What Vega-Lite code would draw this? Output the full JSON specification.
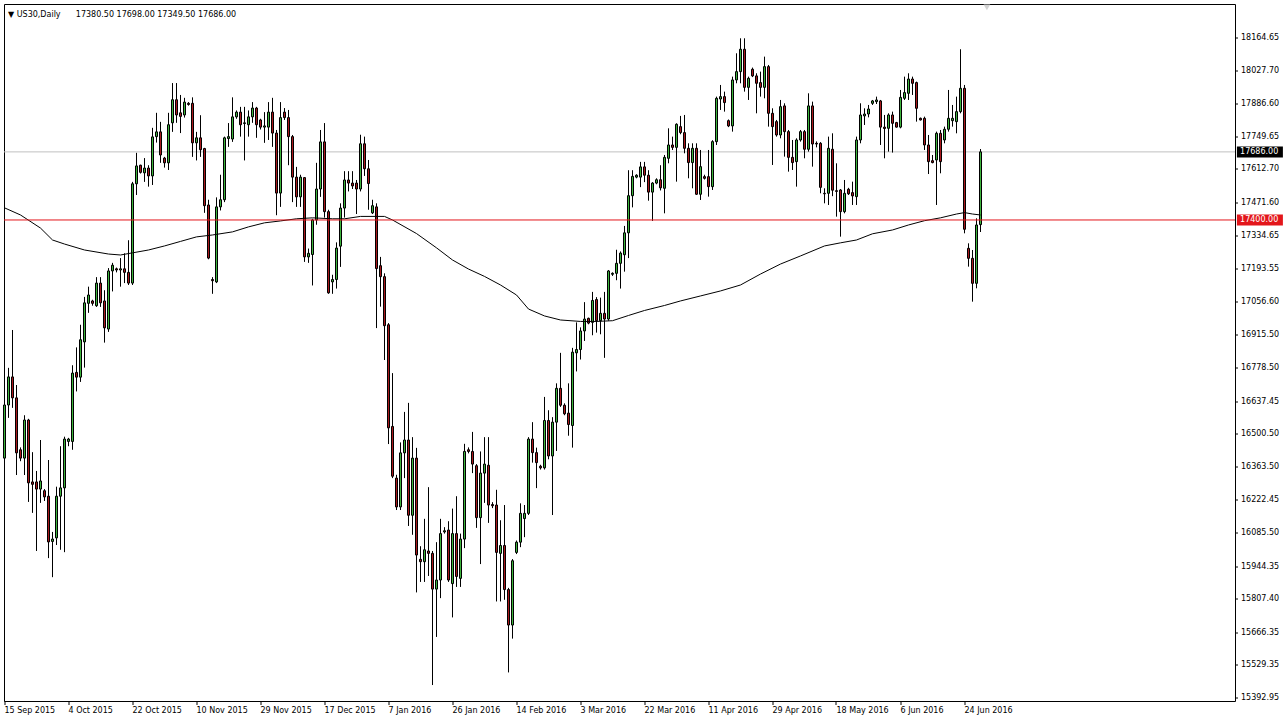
{
"$schema":"https://vega.github.io/schema/vega-lite/v6.json",
"width":1231,"height":697,
"autosize":{"type":"none"},
"padding":{"left":4,"top":4,"right":50,"bottom":23},
"background":"#ffffff",
"title":{"text":"▼ US30,Daily\u00a0\u00a0\u00a0\u00a0\u00a0\u00a017380.50 17698.00 17349.50 17686.00","anchor":"start","frame":"group","orient":"top","offset":-12,"dy":9,"baseline":"alphabetic","dx":4,"font":"DejaVu Sans","fontSize":8,"fontWeight":"normal","color":"#000000"},
"config":{
"view":{"stroke":"#000000","strokeWidth":1},
"axis":{"labelFont":"DejaVu Sans","labelFontSize":8,"labelColor":"#000000","tickColor":"#000000","tickWidth":1,"grid":false,"domain":false,"titleOpacity":0,"translate":0},
"axisX":{"labelAlign":"left","labelBaseline":"top","tickSize":4,"labelPadding":2,"labelOverlap":false,"labelFlush":false,"labelBound":false},
"axisY":{"tickSize":3,"labelPadding":3,"labelBaseline":"middle","labelOverlap":false,"labelBound":false,"labelFlush":false}
},
"datasets":{
"bars":[
{"i":0,"d":"2015-09-15","o":16400,"h":16644,"l":16308,"c":16623},
{"i":1,"d":"2015-09-16","o":16623,"h":16779,"l":16569,"c":16741},
{"i":2,"d":"2015-09-17","o":16741,"h":16938,"l":16611,"c":16653},
{"i":3,"d":"2015-09-18","o":16653,"h":16707,"l":16329,"c":16422},
{"i":4,"d":"2015-09-20","o":16435,"h":16445,"l":16387,"c":16400},
{"i":5,"d":"2015-09-21","o":16400,"h":16580,"l":16329,"c":16560},
{"i":6,"d":"2015-09-22","o":16560,"h":16565,"l":16216,"c":16296},
{"i":7,"d":"2015-09-23","o":16300,"h":16425,"l":16170,"c":16290},
{"i":8,"d":"2015-09-24","o":16300,"h":16346,"l":16010,"c":16270},
{"i":9,"d":"2015-09-25","o":16270,"h":16476,"l":16212,"c":16304},
{"i":10,"d":"2015-09-27","o":16263,"h":16270,"l":16220,"c":16237},
{"i":11,"d":"2015-09-28","o":16240,"h":16392,"l":15980,"c":16048},
{"i":12,"d":"2015-09-29","o":16050,"h":16090,"l":15900,"c":16060},
{"i":13,"d":"2015-09-30","o":16065,"h":16280,"l":16035,"c":16240},
{"i":14,"d":"2015-10-01","o":16240,"h":16450,"l":16015,"c":16275},
{"i":15,"d":"2015-10-02","o":16275,"h":16490,"l":16005,"c":16480},
{"i":16,"d":"2015-10-04","o":16470,"h":16485,"l":16450,"c":16480},
{"i":17,"d":"2015-10-05","o":16470,"h":16790,"l":16435,"c":16757},
{"i":18,"d":"2015-10-06","o":16760,"h":16865,"l":16680,"c":16740},
{"i":19,"d":"2015-10-07","o":16740,"h":16960,"l":16720,"c":16897},
{"i":20,"d":"2015-10-08","o":16888,"h":17077,"l":16780,"c":17052},
{"i":21,"d":"2015-10-09","o":17050,"h":17120,"l":17010,"c":17085},
{"i":22,"d":"2015-10-11","o":17060,"h":17065,"l":17040,"c":17050},
{"i":23,"d":"2015-10-12","o":17040,"h":17160,"l":17035,"c":17135},
{"i":24,"d":"2015-10-13","o":17135,"h":17160,"l":17035,"c":17052},
{"i":25,"d":"2015-10-14","o":17060,"h":17105,"l":16885,"c":16947},
{"i":26,"d":"2015-10-15","o":16942,"h":17198,"l":16930,"c":17186},
{"i":27,"d":"2015-10-16","o":17186,"h":17220,"l":17100,"c":17210},
{"i":28,"d":"2015-10-18","o":17195,"h":17200,"l":17180,"c":17190},
{"i":29,"d":"2015-10-19","o":17190,"h":17240,"l":17120,"c":17195},
{"i":30,"d":"2015-10-20","o":17195,"h":17260,"l":17135,"c":17180},
{"i":31,"d":"2015-10-21","o":17180,"h":17315,"l":17127,"c":17135},
{"i":32,"d":"2015-10-22","o":17135,"h":17560,"l":17127,"c":17552},
{"i":33,"d":"2015-10-23","o":17552,"h":17682,"l":17505,"c":17627},
{"i":34,"d":"2015-10-25","o":17630,"h":17632,"l":17595,"c":17600},
{"i":35,"d":"2015-10-26","o":17598,"h":17660,"l":17560,"c":17618},
{"i":36,"d":"2015-10-27","o":17618,"h":17630,"l":17540,"c":17585},
{"i":37,"d":"2015-10-28","o":17585,"h":17787,"l":17547,"c":17749},
{"i":38,"d":"2015-10-29","o":17750,"h":17850,"l":17725,"c":17770},
{"i":39,"d":"2015-10-30","o":17770,"h":17812,"l":17640,"c":17673},
{"i":40,"d":"2015-11-01","o":17660,"h":17665,"l":17620,"c":17640},
{"i":41,"d":"2015-11-02","o":17640,"h":17850,"l":17610,"c":17800},
{"i":42,"d":"2015-11-03","o":17808,"h":17975,"l":17770,"c":17905},
{"i":43,"d":"2015-11-04","o":17905,"h":17975,"l":17808,"c":17841},
{"i":44,"d":"2015-11-05","o":17850,"h":17925,"l":17765,"c":17835},
{"i":45,"d":"2015-11-06","o":17841,"h":17913,"l":17830,"c":17895},
{"i":46,"d":"2015-11-08","o":17890,"h":17895,"l":17880,"c":17885},
{"i":47,"d":"2015-11-09","o":17890,"h":17915,"l":17665,"c":17724},
{"i":48,"d":"2015-11-10","o":17724,"h":17770,"l":17650,"c":17745},
{"i":49,"d":"2015-11-11","o":17745,"h":17840,"l":17665,"c":17695},
{"i":50,"d":"2015-11-12","o":17700,"h":17703,"l":17430,"c":17460},
{"i":51,"d":"2015-11-13","o":17463,"h":17485,"l":17235,"c":17240},
{"i":52,"d":"2015-11-15","o":17150,"h":17160,"l":17090,"c":17145},
{"i":53,"d":"2015-11-16","o":17140,"h":17495,"l":17135,"c":17455},
{"i":54,"d":"2015-11-17","o":17455,"h":17590,"l":17440,"c":17485},
{"i":55,"d":"2015-11-18","o":17485,"h":17750,"l":17475,"c":17745},
{"i":56,"d":"2015-11-19","o":17742,"h":17807,"l":17707,"c":17750},
{"i":57,"d":"2015-11-20","o":17740,"h":17915,"l":17728,"c":17833},
{"i":58,"d":"2015-11-22","o":17833,"h":17860,"l":17825,"c":17853},
{"i":59,"d":"2015-11-23","o":17853,"h":17875,"l":17750,"c":17800},
{"i":60,"d":"2015-11-24","o":17805,"h":17875,"l":17650,"c":17808},
{"i":61,"d":"2015-11-25","o":17800,"h":17860,"l":17750,"c":17833},
{"i":62,"d":"2015-11-26","o":17833,"h":17895,"l":17808,"c":17870},
{"i":63,"d":"2015-11-27","o":17870,"h":17875,"l":17745,"c":17800},
{"i":64,"d":"2015-11-29","o":17820,"h":17825,"l":17780,"c":17790},
{"i":65,"d":"2015-11-30","o":17790,"h":17853,"l":17724,"c":17795},
{"i":66,"d":"2015-12-01","o":17790,"h":17895,"l":17736,"c":17853},
{"i":67,"d":"2015-12-02","o":17853,"h":17913,"l":17707,"c":17765},
{"i":68,"d":"2015-12-03","o":17765,"h":17778,"l":17420,"c":17513},
{"i":69,"d":"2015-12-04","o":17513,"h":17895,"l":17455,"c":17830},
{"i":70,"d":"2015-12-06","o":17853,"h":17870,"l":17820,"c":17830},
{"i":71,"d":"2015-12-07","o":17830,"h":17862,"l":17630,"c":17750},
{"i":72,"d":"2015-12-08","o":17750,"h":17757,"l":17475,"c":17580},
{"i":73,"d":"2015-12-09","o":17580,"h":17623,"l":17455,"c":17497},
{"i":74,"d":"2015-12-10","o":17497,"h":17590,"l":17455,"c":17580},
{"i":75,"d":"2015-12-11","o":17578,"h":17580,"l":17224,"c":17245},
{"i":76,"d":"2015-12-13","o":17245,"h":17280,"l":17220,"c":17260},
{"i":77,"d":"2015-12-14","o":17255,"h":17405,"l":17125,"c":17400},
{"i":78,"d":"2015-12-15","o":17400,"h":17640,"l":17380,"c":17530},
{"i":79,"d":"2015-12-16","o":17530,"h":17778,"l":17497,"c":17728},
{"i":80,"d":"2015-12-17","o":17728,"h":17807,"l":17410,"c":17435},
{"i":81,"d":"2015-12-18","o":17435,"h":17443,"l":17090,"c":17094},
{"i":82,"d":"2015-12-20","o":17140,"h":17170,"l":17090,"c":17150},
{"i":83,"d":"2015-12-21","o":17150,"h":17306,"l":17112,"c":17282},
{"i":84,"d":"2015-12-22","o":17290,"h":17470,"l":17203,"c":17450},
{"i":85,"d":"2015-12-23","o":17450,"h":17605,"l":17410,"c":17568},
{"i":86,"d":"2015-12-24","o":17568,"h":17605,"l":17520,"c":17555},
{"i":87,"d":"2015-12-27","o":17555,"h":17605,"l":17530,"c":17543},
{"i":88,"d":"2015-12-28","o":17555,"h":17568,"l":17425,"c":17530},
{"i":89,"d":"2015-12-29","o":17530,"h":17758,"l":17520,"c":17720},
{"i":90,"d":"2015-12-30","o":17720,"h":17750,"l":17585,"c":17615},
{"i":91,"d":"2015-12-31","o":17615,"h":17652,"l":17443,"c":17553},
{"i":92,"d":"2016-01-03","o":17430,"h":17485,"l":17425,"c":17460},
{"i":93,"d":"2016-01-04","o":17455,"h":17470,"l":16946,"c":17196},
{"i":94,"d":"2016-01-05","o":17208,"h":17245,"l":17036,"c":17162},
{"i":95,"d":"2016-01-06","o":17162,"h":17176,"l":16812,"c":16956},
{"i":96,"d":"2016-01-07","o":16960,"h":16967,"l":16459,"c":16527},
{"i":97,"d":"2016-01-08","o":16533,"h":16757,"l":16316,"c":16324},
{"i":98,"d":"2016-01-10","o":16316,"h":16330,"l":16182,"c":16195},
{"i":99,"d":"2016-01-11","o":16195,"h":16466,"l":16182,"c":16422},
{"i":100,"d":"2016-01-12","o":16422,"h":16594,"l":16316,"c":16476},
{"i":101,"d":"2016-01-13","o":16476,"h":16632,"l":16115,"c":16160},
{"i":102,"d":"2016-01-14","o":16160,"h":16488,"l":16078,"c":16400},
{"i":103,"d":"2016-01-15","o":16400,"h":16443,"l":15836,"c":15993},
{"i":104,"d":"2016-01-17","o":15975,"h":16030,"l":15880,"c":15965},
{"i":105,"d":"2016-01-18","o":15965,"h":16145,"l":15880,"c":16015},
{"i":106,"d":"2016-01-19","o":16010,"h":16278,"l":15905,"c":16000},
{"i":107,"d":"2016-01-20","o":16000,"h":16010,"l":15447,"c":15850},
{"i":108,"d":"2016-01-21","o":15850,"h":16047,"l":15649,"c":15888},
{"i":109,"d":"2016-01-22","o":15888,"h":16145,"l":15812,"c":16083},
{"i":110,"d":"2016-01-24","o":16090,"h":16110,"l":16083,"c":16095},
{"i":111,"d":"2016-01-25","o":16098,"h":16135,"l":15880,"c":15888},
{"i":112,"d":"2016-01-26","o":15873,"h":16188,"l":15731,"c":16083},
{"i":113,"d":"2016-01-27","o":16083,"h":16240,"l":15859,"c":15903},
{"i":114,"d":"2016-01-28","o":15895,"h":16083,"l":15859,"c":16060},
{"i":115,"d":"2016-01-29","o":16060,"h":16460,"l":16022,"c":16428},
{"i":116,"d":"2016-01-31","o":16435,"h":16445,"l":16420,"c":16428},
{"i":117,"d":"2016-02-01","o":16428,"h":16510,"l":16337,"c":16375},
{"i":118,"d":"2016-02-02","o":16368,"h":16375,"l":16107,"c":16150},
{"i":119,"d":"2016-02-03","o":16150,"h":16428,"l":15955,"c":16337},
{"i":120,"d":"2016-02-04","o":16337,"h":16488,"l":16212,"c":16375},
{"i":121,"d":"2016-02-05","o":16370,"h":16488,"l":16128,"c":16203},
{"i":122,"d":"2016-02-07","o":16205,"h":16215,"l":16190,"c":16200},
{"i":123,"d":"2016-02-08","o":16203,"h":16267,"l":15798,"c":16004},
{"i":124,"d":"2016-02-09","o":16000,"h":16139,"l":15798,"c":16033},
{"i":125,"d":"2016-02-10","o":16033,"h":16203,"l":15805,"c":15848},
{"i":126,"d":"2016-02-11","o":15848,"h":15855,"l":15500,"c":15699},
{"i":127,"d":"2016-02-12","o":15699,"h":15976,"l":15642,"c":15969},
{"i":128,"d":"2016-02-14","o":16004,"h":16054,"l":15997,"c":16047},
{"i":129,"d":"2016-02-15","o":16047,"h":16210,"l":16026,"c":16168},
{"i":130,"d":"2016-02-16","o":16146,"h":16203,"l":16068,"c":16168},
{"i":131,"d":"2016-02-17","o":16168,"h":16488,"l":16161,"c":16480},
{"i":132,"d":"2016-02-18","o":16480,"h":16551,"l":16381,"c":16423},
{"i":133,"d":"2016-02-19","o":16423,"h":16444,"l":16274,"c":16381},
{"i":134,"d":"2016-02-21","o":16366,"h":16372,"l":16352,"c":16359},
{"i":135,"d":"2016-02-22","o":16359,"h":16657,"l":16352,"c":16558},
{"i":136,"d":"2016-02-23","o":16558,"h":16601,"l":16395,"c":16409},
{"i":137,"d":"2016-02-24","o":16409,"h":16572,"l":16161,"c":16551},
{"i":138,"d":"2016-02-25","o":16551,"h":16714,"l":16430,"c":16693},
{"i":139,"d":"2016-02-26","o":16693,"h":16842,"l":16615,"c":16622},
{"i":140,"d":"2016-02-28","o":16622,"h":16630,"l":16580,"c":16586},
{"i":141,"d":"2016-02-29","o":16589,"h":16714,"l":16494,"c":16541},
{"i":142,"d":"2016-03-01","o":16537,"h":16863,"l":16444,"c":16845},
{"i":143,"d":"2016-03-02","o":16842,"h":16970,"l":16764,"c":16856},
{"i":144,"d":"2016-03-03","o":16856,"h":16949,"l":16814,"c":16934},
{"i":145,"d":"2016-03-04","o":16934,"h":17055,"l":16892,"c":16984},
{"i":146,"d":"2016-03-06","o":16987,"h":16990,"l":16962,"c":16967},
{"i":147,"d":"2016-03-07","o":16970,"h":17098,"l":16916,"c":17062},
{"i":148,"d":"2016-03-08","o":17066,"h":17076,"l":16927,"c":16977},
{"i":149,"d":"2016-03-09","o":16977,"h":17074,"l":16920,"c":17008},
{"i":150,"d":"2016-03-10","o":17008,"h":17098,"l":16821,"c":16984},
{"i":151,"d":"2016-03-11","o":16984,"h":17190,"l":16977,"c":17186},
{"i":152,"d":"2016-03-13","o":17172,"h":17180,"l":17165,"c":17176},
{"i":153,"d":"2016-03-14","o":17176,"h":17275,"l":17147,"c":17218},
{"i":154,"d":"2016-03-15","o":17218,"h":17268,"l":17112,"c":17261},
{"i":155,"d":"2016-03-16","o":17254,"h":17375,"l":17183,"c":17346},
{"i":156,"d":"2016-03-17","o":17346,"h":17609,"l":17240,"c":17502},
{"i":157,"d":"2016-03-18","o":17502,"h":17609,"l":17453,"c":17583},
{"i":158,"d":"2016-03-20","o":17580,"h":17592,"l":17575,"c":17588},
{"i":159,"d":"2016-03-21","o":17580,"h":17644,"l":17538,"c":17623},
{"i":160,"d":"2016-03-22","o":17623,"h":17644,"l":17559,"c":17588},
{"i":161,"d":"2016-03-23","o":17588,"h":17609,"l":17481,"c":17517},
{"i":162,"d":"2016-03-24","o":17517,"h":17559,"l":17396,"c":17555},
{"i":163,"d":"2016-03-27","o":17555,"h":17575,"l":17550,"c":17569},
{"i":164,"d":"2016-03-28","o":17569,"h":17630,"l":17524,"c":17535},
{"i":165,"d":"2016-03-29","o":17533,"h":17673,"l":17428,"c":17663},
{"i":166,"d":"2016-03-30","o":17659,"h":17785,"l":17638,"c":17715},
{"i":167,"d":"2016-03-31","o":17715,"h":17750,"l":17694,"c":17705},
{"i":168,"d":"2016-04-01","o":17705,"h":17806,"l":17561,"c":17802},
{"i":169,"d":"2016-04-03","o":17792,"h":17837,"l":17760,"c":17767},
{"i":170,"d":"2016-04-04","o":17767,"h":17841,"l":17680,"c":17701},
{"i":171,"d":"2016-04-05","o":17701,"h":17722,"l":17575,"c":17641},
{"i":172,"d":"2016-04-06","o":17641,"h":17722,"l":17533,"c":17701},
{"i":173,"d":"2016-04-07","o":17701,"h":17722,"l":17505,"c":17508},
{"i":174,"d":"2016-04-08","o":17508,"h":17694,"l":17484,"c":17624},
{"i":175,"d":"2016-04-10","o":17582,"h":17590,"l":17570,"c":17575},
{"i":176,"d":"2016-04-11","o":17582,"h":17694,"l":17498,"c":17540},
{"i":177,"d":"2016-04-12","o":17540,"h":17735,"l":17526,"c":17729},
{"i":178,"d":"2016-04-13","o":17729,"h":17918,"l":17715,"c":17911},
{"i":179,"d":"2016-04-14","o":17908,"h":17967,"l":17862,"c":17918},
{"i":180,"d":"2016-04-15","o":17918,"h":17939,"l":17855,"c":17893},
{"i":181,"d":"2016-04-17","o":17817,"h":17822,"l":17790,"c":17795},
{"i":182,"d":"2016-04-18","o":17795,"h":18002,"l":17771,"c":17988},
{"i":183,"d":"2016-04-19","o":17988,"h":18100,"l":17974,"c":18023},
{"i":184,"d":"2016-04-20","o":18023,"h":18163,"l":17974,"c":18117},
{"i":185,"d":"2016-04-21","o":18117,"h":18163,"l":17939,"c":17957},
{"i":186,"d":"2016-04-22","o":17957,"h":18002,"l":17904,"c":17995},
{"i":187,"d":"2016-04-24","o":18033,"h":18040,"l":18000,"c":18005},
{"i":188,"d":"2016-04-25","o":18005,"h":18016,"l":17848,"c":17974},
{"i":189,"d":"2016-04-26","o":17977,"h":18023,"l":17918,"c":17957},
{"i":190,"d":"2016-04-27","o":17957,"h":18086,"l":17911,"c":18044},
{"i":191,"d":"2016-04-28","o":18044,"h":18051,"l":17792,"c":17848},
{"i":192,"d":"2016-04-29","o":17848,"h":17869,"l":17631,"c":17792},
{"i":193,"d":"2016-05-01","o":17813,"h":17820,"l":17750,"c":17757},
{"i":194,"d":"2016-05-02","o":17757,"h":17904,"l":17743,"c":17876},
{"i":195,"d":"2016-05-03","o":17879,"h":17890,"l":17666,"c":17771},
{"i":196,"d":"2016-05-04","o":17771,"h":17778,"l":17603,"c":17663},
{"i":197,"d":"2016-05-05","o":17663,"h":17736,"l":17610,"c":17641},
{"i":198,"d":"2016-05-06","o":17645,"h":17743,"l":17540,"c":17736},
{"i":199,"d":"2016-05-08","o":17736,"h":17778,"l":17729,"c":17771},
{"i":200,"d":"2016-05-09","o":17771,"h":17778,"l":17659,"c":17697},
{"i":201,"d":"2016-05-10","o":17697,"h":17932,"l":17687,"c":17879},
{"i":202,"d":"2016-05-11","o":17879,"h":17897,"l":17624,"c":17719},
{"i":203,"d":"2016-05-12","o":17722,"h":17730,"l":17705,"c":17719},
{"i":204,"d":"2016-05-13","o":17722,"h":17727,"l":17512,"c":17537},
{"i":205,"d":"2016-05-15","o":17512,"h":17533,"l":17470,"c":17510},
{"i":206,"d":"2016-05-16","o":17512,"h":17750,"l":17463,"c":17701},
{"i":207,"d":"2016-05-17","o":17697,"h":17764,"l":17500,"c":17525},
{"i":208,"d":"2016-05-18","o":17523,"h":17638,"l":17414,"c":17520},
{"i":209,"d":"2016-05-19","o":17526,"h":17530,"l":17330,"c":17435},
{"i":210,"d":"2016-05-20","o":17435,"h":17568,"l":17428,"c":17512},
{"i":211,"d":"2016-05-22","o":17529,"h":17535,"l":17505,"c":17510},
{"i":212,"d":"2016-05-23","o":17515,"h":17561,"l":17463,"c":17501},
{"i":213,"d":"2016-05-24","o":17498,"h":17750,"l":17463,"c":17736},
{"i":214,"d":"2016-05-25","o":17736,"h":17890,"l":17722,"c":17841},
{"i":215,"d":"2016-05-26","o":17837,"h":17869,"l":17799,"c":17845},
{"i":216,"d":"2016-05-27","o":17845,"h":17883,"l":17831,"c":17866},
{"i":217,"d":"2016-05-29","o":17890,"h":17904,"l":17883,"c":17900},
{"i":218,"d":"2016-05-30","o":17897,"h":17918,"l":17887,"c":17904},
{"i":219,"d":"2016-05-31","o":17900,"h":17904,"l":17715,"c":17790},
{"i":220,"d":"2016-06-01","o":17790,"h":17841,"l":17659,"c":17784},
{"i":221,"d":"2016-06-02","o":17785,"h":17848,"l":17687,"c":17841},
{"i":222,"d":"2016-06-03","o":17841,"h":17855,"l":17683,"c":17806},
{"i":223,"d":"2016-06-05","o":17809,"h":17812,"l":17788,"c":17790},
{"i":224,"d":"2016-06-06","o":17790,"h":17946,"l":17785,"c":17915},
{"i":225,"d":"2016-06-07","o":17911,"h":18002,"l":17904,"c":17935},
{"i":226,"d":"2016-06-08","o":17932,"h":18016,"l":17904,"c":17992},
{"i":227,"d":"2016-06-09","o":17992,"h":18002,"l":17925,"c":17974},
{"i":228,"d":"2016-06-10","o":17977,"h":17981,"l":17813,"c":17869},
{"i":229,"d":"2016-06-12","o":17827,"h":17830,"l":17818,"c":17820},
{"i":230,"d":"2016-06-13","o":17827,"h":17834,"l":17694,"c":17715},
{"i":231,"d":"2016-06-14","o":17715,"h":17757,"l":17593,"c":17645},
{"i":232,"d":"2016-06-15","o":17649,"h":17673,"l":17638,"c":17641},
{"i":233,"d":"2016-06-16","o":17652,"h":17771,"l":17463,"c":17764},
{"i":234,"d":"2016-06-17","o":17764,"h":17778,"l":17596,"c":17645},
{"i":235,"d":"2016-06-19","o":17736,"h":17792,"l":17722,"c":17781},
{"i":236,"d":"2016-06-20","o":17781,"h":17946,"l":17771,"c":17827},
{"i":237,"d":"2016-06-21","o":17817,"h":17883,"l":17792,"c":17827},
{"i":238,"d":"2016-06-22","o":17813,"h":17918,"l":17764,"c":17855},
{"i":239,"d":"2016-06-23","o":17855,"h":18117,"l":17848,"c":17953},
{"i":240,"d":"2016-06-24","o":17953,"h":17967,"l":17344,"c":17361},
{"i":241,"d":"2016-06-26","o":17281,"h":17302,"l":17204,"c":17239},
{"i":242,"d":"2016-06-27","o":17239,"h":17274,"l":17057,"c":17134},
{"i":243,"d":"2016-06-28","o":17134,"h":17407,"l":17113,"c":17379},
{"i":244,"d":"2016-06-29","o":17380.5,"h":17698,"l":17349.5,"c":17686}
],
"ma":[
{"i":0,"v":17451},{"i":4,"v":17421},{"i":9,"v":17366},{"i":12,"v":17316},{"i":15,"v":17299},{"i":20,"v":17274},{"i":26,"v":17257},{"i":29,"v":17253},{"i":32,"v":17262},{"i":36,"v":17274},{"i":40,"v":17291},{"i":44,"v":17310},{"i":48,"v":17329},{"i":52,"v":17337},{"i":57,"v":17350},{"i":61,"v":17371},{"i":65,"v":17388},{"i":69,"v":17396},{"i":73,"v":17405},{"i":77,"v":17409},{"i":82,"v":17405},{"i":85,"v":17405},{"i":89,"v":17415},{"i":95,"v":17415},{"i":97,"v":17400},{"i":103,"v":17343},{"i":108,"v":17283},{"i":112,"v":17232},{"i":116,"v":17194},{"i":120,"v":17163},{"i":124,"v":17127},{"i":128,"v":17085},{"i":131,"v":17026},{"i":135,"v":16997},{"i":139,"v":16980},{"i":144,"v":16974},{"i":148,"v":16974},{"i":152,"v":16977},{"i":156,"v":16999},{"i":160,"v":17020},{"i":165,"v":17041},{"i":169,"v":17060},{"i":174,"v":17081},{"i":179,"v":17102},{"i":184,"v":17127},{"i":189,"v":17173},{"i":194,"v":17215},{"i":199,"v":17249},{"i":205,"v":17291},{"i":209,"v":17304},{"i":213,"v":17316},{"i":217,"v":17342},{"i":222,"v":17358},{"i":226,"v":17379},{"i":230,"v":17397},{"i":234,"v":17409},{"i":238,"v":17425},{"i":240,"v":17431},{"i":242,"v":17425},{"i":244,"v":17421}
],
"tags":[
{"p":17686,"lab":"17686.00","kind":"bid"},
{"p":17400,"lab":"17400.00","kind":"level"}
],
"marker":[{"i":245.6,"p":18293}]
},
"layer":[
{"data":{"name":"tags"},"transform":[{"filter":"datum.kind == 'bid'"}],
 "mark":{"type":"rule","color":"#c0c0c0","strokeWidth":1},
 "encoding":{"y":{"field":"p","type":"quantitative","title":null,"scale":{"domain":[15380,18307],"nice":false,"zero":false,"padding":0}}}},
{"data":{"name":"bars"},
 "mark":{"type":"rule","color":"#000000","strokeWidth":1},
 "encoding":{
  "x":{"field":"i","type":"quantitative","title":null,"scale":{"domain":[-0.125,307.625],"nice":false,"zero":false,"padding":0},
   "axis":{"labelOverlap":false,"tickCount":40,"values":[0,16,32,48,64,80,96,112,128,144,160,176,192,208,224,240],
    "labelExpr":"['15 Sep 2015','4 Oct 2015','22 Oct 2015','10 Nov 2015','29 Nov 2015','17 Dec 2015','7 Jan 2016','26 Jan 2016','14 Feb 2016','3 Mar 2016','22 Mar 2016','11 Apr 2016','29 Apr 2016','18 May 2016','6 Jun 2016','24 Jun 2016'][round(datum.value/16)]"}},
  "y":{"field":"l","type":"quantitative","title":null,"scale":{"domain":[15380,18307],"nice":false,"zero":false,"padding":0},
   "axis":{"orient":"right","format":".2f","labelOverlap":false,"tickCount":40,"values":[15392.95,15529.35,15666.35,15807.40,15944.35,16085.50,16222.45,16363.50,16500.50,16637.45,16778.50,16915.50,17056.60,17193.55,17334.65,17471.60,17612.70,17749.65,17886.60,18027.70,18164.65]}},
  "y2":{"field":"h"}}},
{"data":{"name":"bars"},
 "mark":{"type":"bar","width":2,"stroke":"#000000","strokeWidth":1},
 "encoding":{
  "x":{"field":"i","type":"quantitative","title":null,"scale":{"domain":[-0.125,307.625],"nice":false,"zero":false,"padding":0}},
  "y":{"field":"o","type":"quantitative","title":null,"scale":{"domain":[15380,18307],"nice":false,"zero":false,"padding":0}},
  "y2":{"field":"c"},
  "color":{"condition":{"test":"datum.c >= datum.o","value":"#3cb43c"},"value":"#a8181c"}}},
{"data":{"name":"ma"},
 "mark":{"type":"line","color":"#000000","strokeWidth":1},
 "encoding":{
  "x":{"field":"i","type":"quantitative","title":null,"scale":{"domain":[-0.125,307.625],"nice":false,"zero":false,"padding":0}},
  "y":{"field":"v","type":"quantitative","title":null,"scale":{"domain":[15380,18307],"nice":false,"zero":false,"padding":0}}}},
{"data":{"name":"tags"},"transform":[{"filter":"datum.kind == 'level'"}],
 "mark":{"type":"rule","color":"#e3161b","strokeWidth":1},
 "encoding":{"y":{"field":"p","type":"quantitative","title":null,"scale":{"domain":[15380,18307],"nice":false,"zero":false,"padding":0}}}},
{"data":{"name":"marker"},
 "mark":{"type":"point","shape":"triangle-down","filled":true,"size":45,"color":"#d4d4d4","opacity":1},
 "encoding":{
  "x":{"field":"i","type":"quantitative","title":null,"scale":{"domain":[-0.125,307.625],"nice":false,"zero":false,"padding":0}},
  "y":{"field":"p","type":"quantitative","title":null,"scale":{"domain":[15380,18307],"nice":false,"zero":false,"padding":0}}}},
{"data":{"name":"tags"},
 "mark":{"type":"bar","height":11,"orient":"horizontal","clip":false},
 "encoding":{
  "x":{"datum":308.1,"type":"quantitative","title":null,"scale":{"domain":[-0.125,307.625],"nice":false,"zero":false,"padding":0}},
  "x2":{"datum":319.6},
  "y":{"field":"p","type":"quantitative","title":null,"scale":{"domain":[15380,18307],"nice":false,"zero":false,"padding":0}},
  "color":{"field":"kind","type":"nominal","scale":{"domain":["bid","level"],"range":["#000000","#e3161b"]},"legend":null}}},
{"data":{"name":"tags"},
 "mark":{"type":"text","align":"left","baseline":"middle","color":"#ffffff","font":"DejaVu Sans","fontSize":8,"clip":false},
 "encoding":{
  "x":{"datum":308.9,"type":"quantitative","title":null,"scale":{"domain":[-0.125,307.625],"nice":false,"zero":false,"padding":0}},
  "y":{"field":"p","type":"quantitative","title":null,"scale":{"domain":[15380,18307],"nice":false,"zero":false,"padding":0}},
  "text":{"field":"lab"}}}
]
}
